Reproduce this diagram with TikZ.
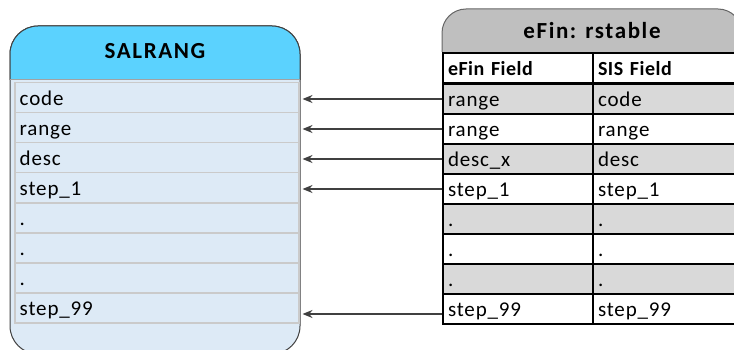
\documentclass[tikz,border=0pt]{standalone}
\usepackage{fontspec}
\setmainfont{Carlito}[LetterSpace=4,BoldFeatures={LetterSpace=2.5}]
\newfontfamily\titlefam{Carlito}[LetterSpace=7]
\usetikzlibrary{arrows.meta}
\definecolor{hcyan}{HTML}{5BD2FE}
\definecolor{lblue}{HTML}{DDEAF6}
\definecolor{rowgray}{HTML}{CACACA}
\definecolor{dkline}{HTML}{404040}
\definecolor{titlegray}{HTML}{BFBFBF}
\definecolor{cellgray}{HTML}{D9D9D9}
\tikzset{
  lrow/.style={draw=rowgray, line width=1.5pt, fill=lblue, minimum width=284pt,
    minimum height=30pt, anchor=north west, inner xsep=5pt, inner ysep=0pt,
    text width=274pt, align=left, text height=15pt, text depth=0pt},
  rcell/.style={draw=black, line width=2pt, minimum height=30pt, anchor=north west,
    inner xsep=5pt, inner ysep=0pt, align=left, text height=15pt, text depth=0pt},
  colA/.style={rcell, minimum width=150pt, text width=140pt},
  colB/.style={rcell, minimum width=148pt, text width=138pt},
  shaded/.style={fill=cellgray},
  plain/.style={fill=white},
  arr/.style={draw=dkline, line width=1.4pt, -{Stealth[length=10pt,width=8pt]}, shorten >=3pt},
  titletext/.style={font=\titlefam\fontsize{23}{25}\selectfont\bfseries, anchor=base},
}
\begin{document}
\begin{tikzpicture}[x=1pt,y=-1pt,font=\fontsize{21}{24}\selectfont]
\useasboundingbox (0,0) rectangle (734,350);

% ---- left table SALRANG ----
\draw[draw=dkline, line width=1pt, fill=lblue, rounded corners=28pt] (10,26) rectangle (300,354);
\begin{scope}
  \clip[rounded corners=28pt] (10,26) rectangle (300,354);
  \fill[hcyan] (10,26) rectangle (300,80);
\end{scope}
\draw[draw=dkline, line width=1pt, rounded corners=28pt] (10,80) -- (10,26) -- (300,26) -- (300,80);
\draw[draw=rowgray!80!black, line width=1pt] (10,80) -- (300,80);
\node[titletext] (ltitle) at (155,59) {SALRANG};

\node[lrow] (L1) at (14,82)  {code};
\node[lrow] (L2) at (14,112) {range};
\node[lrow] (L3) at (14,142) {desc};
\node[lrow] (L4) at (14,172) {step\_1};
\node[lrow] (L5) at (14,202) {.};
\node[lrow] (L6) at (14,232) {.};
\node[lrow] (L7) at (14,262) {.};
\node[lrow] (L8) at (14,292) {step\_99};

% ---- right table eFin: rstable ----
\draw[draw=dkline!80, line width=1pt, fill=titlegray, rounded corners=24pt]
  (442,52) -- (442,9) -- (742,9) -- (742,52);
\node[titletext] (rtitle) at (592,39) {eFin: rstable};

\node[colA, plain, font=\fontsize{20}{22}\selectfont\bfseries] (HA) at (442,52) {eFin Field};
\node[colB, plain, font=\fontsize{20}{22}\selectfont\bfseries] (HB) at (592,52) {SIS Field};

\node[colA, shaded] (R1a) at (442,83)  {range};
\node[colB, shaded] (R1b) at (592,83)  {code};
\node[colA, plain]  (R2a) at (442,113) {range};
\node[colB, plain]  (R2b) at (592,113) {range};
\node[colA, shaded] (R3a) at (442,143) {desc\_x};
\node[colB, shaded] (R3b) at (592,143) {desc};
\node[colA, plain]  (R4a) at (442,173) {step\_1};
\node[colB, plain]  (R4b) at (592,173) {step\_1};
\node[colA, shaded] (R5a) at (442,203) {.};
\node[colB, shaded] (R5b) at (592,203) {.};
\node[colA, plain]  (R6a) at (442,233) {.};
\node[colB, plain]  (R6b) at (592,233) {.};
\node[colA, shaded] (R7a) at (442,263) {.};
\node[colB, shaded] (R7b) at (592,263) {.};
\node[colA, plain]  (R8a) at (442,293) {step\_99};
\node[colB, plain]  (R8b) at (592,293) {step\_99};

% ---- connectors ----
\draw[arr] (R1a.west) -- (R1a.west -| L1.east);
\draw[arr] (R2a.west) -- (R2a.west -| L2.east);
\draw[arr] (R3a.west) -- (R3a.west -| L3.east);
\draw[arr] (R4a.west) -- (R4a.west -| L4.east);
\coordinate (s99) at ([yshift=-5pt]R8a.west);
\draw[arr] (s99) -- (s99 -| L8.east);
\end{tikzpicture}
\end{document}
